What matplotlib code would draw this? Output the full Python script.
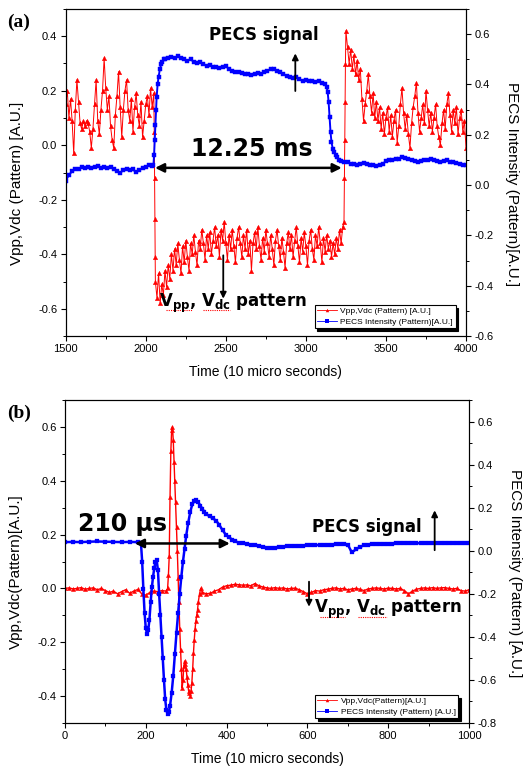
import numpy as np
import matplotlib
matplotlib.use('Agg')
import matplotlib.pyplot as plt
from matplotlib.ticker import MultipleLocator

plt.rcParams['font.family'] = ['Liberation Sans', 'DejaVu Sans']
plt.rcParams['axes.unicode_minus'] = False
plt.rcParams['mathtext.fontset'] = 'dejavusans'

# ---------------- panel (a) data ----------------
# Vpp,Vdc (left axis), sampled every 10 time units, in segments
vpp_a_pre = [0.15, 0.20, 0.10, 0.17, 0.09, -0.03, 0.13, 0.24, 0.16, 0.08,
             0.06, 0.09, 0.07, 0.09, 0.08, 0.05, -0.01, 0.06, 0.15, 0.24,
             0.09, 0.04, 0.13, 0.20, 0.32, 0.21, 0.13, 0.18, 0.07, 0.02,
             -0.01, 0.11, 0.18, 0.27, 0.14, 0.03, 0.13, 0.20, 0.24, 0.13,
             0.09, 0.17, 0.05, 0.14, 0.19, 0.11, 0.07, 0.16, 0.03, 0.09,
             0.15, 0.18, 0.11, 0.21, 0.14, 0.19]            # 1500..2050
vpp_a_drop_t = [2053, 2055, 2057, 2059]
vpp_a_drop = [0.05, -0.12, -0.27, -0.41]
vpp_a_on = [-0.50, -0.56, -0.47, -0.58, -0.51, -0.55, -0.46, -0.52, -0.44, -0.49,
            -0.40, -0.46, -0.38, -0.44, -0.36, -0.42, -0.47, -0.37, -0.43, -0.35,
            -0.41, -0.46, -0.36, -0.40, -0.33, -0.39, -0.44, -0.35, -0.38, -0.31,
            -0.36, -0.42, -0.33, -0.38, -0.32, -0.40, -0.35, -0.30, -0.37, -0.33,
            -0.41, -0.31, -0.35, -0.28, -0.36, -0.42, -0.33, -0.38, -0.31, -0.37,
            -0.43, -0.34, -0.30, -0.36, -0.41, -0.33, -0.38, -0.31, -0.40, -0.35,
            -0.46, -0.36, -0.32, -0.38, -0.30, -0.37, -0.42, -0.34, -0.39, -0.31,
            -0.36, -0.41, -0.33, -0.38, -0.44, -0.35, -0.31, -0.37, -0.42, -0.34,
            -0.39, -0.45, -0.36, -0.32, -0.38, -0.33, -0.41, -0.35, -0.30, -0.37,
            -0.43, -0.34, -0.39, -0.32, -0.37, -0.44, -0.35, -0.31, -0.38, -0.42,
            -0.33, -0.37, -0.30, -0.36, -0.43, -0.34, -0.39, -0.33, -0.38, -0.35,
            -0.41, -0.36, -0.40, -0.34, -0.38, -0.31, -0.36, -0.30]   # 2060..3230
vpp_a_jump_t = [3238, 3241, 3243, 3245, 3247]
vpp_a_jump = [-0.28, -0.12, 0.02, 0.16, 0.30]
vpp_a_post = [0.42, 0.36, 0.30, 0.35, 0.28, 0.33, 0.26, 0.31, 0.24, 0.28,
              0.17, 0.09, 0.15, 0.20, 0.26, 0.18, 0.12, 0.19, 0.10, 0.16,
              0.09, 0.14, 0.06, 0.12, 0.04, 0.10, 0.14, 0.05, 0.11, 0.03,
              0.09, 0.13, 0.01, 0.07, 0.15, 0.21, 0.12, 0.06, 0.11, 0.04,
              -0.01, 0.08, 0.14, 0.18, 0.23, 0.12, 0.05, 0.10, 0.15, 0.08,
              0.20, 0.13, 0.07, 0.12, 0.05, 0.10, 0.15, 0.07, 0.03, 0.00,
              0.08, 0.13, 0.06, 0.15, 0.19, 0.11, 0.05, 0.13, 0.08, 0.14,
              0.04, 0.10, 0.13, 0.05, 0.09, -0.01]          # 3250..4000

# PECS intensity (right axis)
pecs_a_pre = [0.016, 0.04, 0.055, 0.062, 0.065, 0.07, 0.068, 0.072, 0.066, 0.07,
              0.075, 0.068, 0.07, 0.066, 0.072, 0.063, 0.055, 0.048, 0.06, 0.065,
              0.058, 0.062, 0.05, 0.06, 0.068, 0.072, 0.08, 0.076]   # 1500..2040 step 20
pecs_a_rise_t = [2048, 2052, 2056, 2060, 2064, 2068, 2074, 2080, 2088, 2096, 2104, 2112]
pecs_a_rise = [0.08, 0.12, 0.18, 0.24, 0.30, 0.35, 0.40, 0.43, 0.46, 0.48, 0.49, 0.50]
pecs_a_on = [0.50, 0.505, 0.51, 0.505, 0.512, 0.505, 0.50, 0.495, 0.50, 0.49,
             0.485, 0.49, 0.48, 0.475, 0.478, 0.47, 0.468, 0.465, 0.47, 0.472,
             0.462, 0.455, 0.45, 0.448, 0.445, 0.44, 0.442, 0.438, 0.44, 0.445,
             0.44, 0.45, 0.455, 0.46, 0.462, 0.455, 0.45, 0.44, 0.435, 0.43,
             0.425, 0.428, 0.42, 0.415, 0.418, 0.412, 0.415, 0.41, 0.412, 0.405,
             0.40]                                           # 2120..3120 step 20
pecs_a_fall_t = [3130, 3136, 3142, 3148, 3154, 3160, 3168, 3176, 3186, 3196, 3208, 3220]
pecs_a_fall = [0.39, 0.37, 0.33, 0.27, 0.21, 0.17, 0.145, 0.13, 0.12, 0.11, 0.10, 0.095]
pecs_a_post = [0.092, 0.09, 0.085, 0.083, 0.08, 0.085, 0.088, 0.085, 0.08, 0.078,
               0.074, 0.078, 0.085, 0.095, 0.10, 0.098, 0.102, 0.105, 0.11, 0.108,
               0.105, 0.10, 0.095, 0.093, 0.095, 0.098, 0.10, 0.102, 0.098, 0.095,
               0.093, 0.096, 0.098, 0.092, 0.09, 0.088, 0.085, 0.08, 0.078]  # 3240..4000

# ---------------- panel (b) data ----------------
vpp_b_pre = [0.0, 0.002, -0.002, 0.0, 0.003, -0.003, 0.0, 0.002, -0.005, 0.0,
             -0.008, -0.015, -0.01, -0.02, -0.012, -0.005, -0.018, -0.01, -0.004, -0.02,
             -0.025, -0.015, -0.01, -0.012, -0.008, -0.01]   # 0..250 step 10
vpp_b_peak_t = [254, 256, 258, 260, 262, 264, 266, 268, 270, 272, 274, 276, 278, 280,
                282, 284, 286, 288, 290, 292, 294, 296, 298, 300, 302, 304, 306, 308,
                310, 312, 314, 316, 318, 320, 322, 324, 326, 328, 330, 333, 336, 340]
vpp_b_peak = [0.0, 0.05, 0.12, 0.34, 0.51, 0.59, 0.60, 0.55, 0.47, 0.40, 0.32, 0.23,
              0.14, 0.04, -0.05, -0.15, -0.23, -0.30, -0.37, -0.34, -0.29, -0.27,
              -0.28, -0.30, -0.33, -0.36, -0.38, -0.39, -0.40, -0.38, -0.35, -0.30,
              -0.24, -0.19, -0.15, -0.12, -0.10, -0.08, -0.05, -0.02, 0.0, -0.015]
vpp_b_post = [-0.02, -0.018, -0.01, -0.005, 0.005, 0.01, 0.012, 0.015, 0.014, 0.012,
              0.013, 0.01, 0.018, 0.01, 0.005, 0.002, 0.0, 0.003, 0.0, 0.002,
              -0.002, 0.0, 0.001, -0.005, -0.012, -0.02, -0.015, -0.008, -0.01, -0.005,
              -0.003, 0.0, 0.002, -0.002, 0.0, -0.005, -0.002, 0.0, -0.003, -0.008,
              -0.002, 0.0, 0.002, 0.0, -0.002, 0.001, 0.0, -0.002, 0.0, -0.008,
              -0.02, -0.01, -0.003, 0.0, 0.002, 0.0, 0.003, 0.0, 0.002, 0.003,
              0.0, -0.002, 0.0, -0.008, -0.01, -0.005]      # 350..1000 step 10

pecs_b_pre = [0.04, 0.041, 0.04, 0.042, 0.043, 0.042, 0.041, 0.04, 0.041, 0.04]  # 0..180 step 20
pecs_b_mid_t = [188, 191, 194, 197, 200, 203, 206, 209, 212, 215, 218, 221, 224, 227,
                230, 233, 236, 239, 242, 245, 248, 251, 254, 257, 260, 264, 268, 272,
                276, 280, 284, 288, 292, 296, 300, 305, 310, 315, 320, 325, 330, 335,
                340, 345, 350, 358, 366, 374, 382, 390, 398, 406, 414, 422, 430]
pecs_b_mid = [0.035, -0.05, -0.18, -0.29, -0.36, -0.385, -0.37, -0.32, -0.24, -0.17,
              -0.12, -0.08, -0.05, -0.045, -0.09, -0.20, -0.30, -0.40, -0.50, -0.60,
              -0.69, -0.74, -0.76, -0.75, -0.72, -0.66, -0.58, -0.48, -0.38, -0.29,
              -0.20, -0.12, -0.05, 0.01, 0.07, 0.13, 0.18, 0.215, 0.23, 0.235,
              0.225, 0.21, 0.195, 0.18, 0.17, 0.16, 0.15, 0.14, 0.12, 0.095,
              0.075, 0.062, 0.052, 0.043, 0.038]
pecs_b_post = [0.035, 0.032, 0.028, 0.025, 0.022, 0.018, 0.015, 0.013, 0.014, 0.016,
               0.018, 0.02, 0.021, 0.022, 0.023, 0.024, 0.025, 0.026, 0.026, 0.027,
               0.027, 0.028, 0.028, 0.029, 0.03, 0.03, 0.028, -0.008, 0.006, 0.018,
               0.025, 0.028, 0.03, 0.031, 0.032, 0.032, 0.033, 0.033, 0.034, 0.034,
               0.034, 0.034, 0.035, 0.035, 0.035, 0.035, 0.035, 0.035, 0.035, 0.035,
               0.035, 0.035, 0.035, 0.035, 0.035, 0.035, 0.035]  # 440..1000 step 10

label_vpp_a = 'Vpp,Vdc (Pattern) [A.U.]'
label_pecs_a = 'PECS Intensity (Pattern)[A.U.]'
label_vpp_b = 'Vpp,Vdc(Pattern)[A.U.]'
label_pecs_b = 'PECS Intensity (Pattern) [A.U.]'


def grid(start, step, vals):
    # time stamps of a regularly sampled segment
    return start + step * np.arange(len(vals))


def join(*parts):
    t = np.concatenate([np.asarray(p[0], float) for p in parts])
    v = np.concatenate([np.asarray(p[1], float) for p in parts])
    return t, v


t_vpp_a, v_vpp_a = join((grid(1500, 10, vpp_a_pre), vpp_a_pre),
                        (vpp_a_drop_t, vpp_a_drop),
                        (grid(2060, 10, vpp_a_on), vpp_a_on),
                        (vpp_a_jump_t, vpp_a_jump),
                        (grid(3250, 10, vpp_a_post), vpp_a_post))
t_pecs_a, v_pecs_a = join((grid(1500, 20, pecs_a_pre), pecs_a_pre),
                          (pecs_a_rise_t, pecs_a_rise),
                          (grid(2120, 20, pecs_a_on), pecs_a_on),
                          (pecs_a_fall_t, pecs_a_fall),
                          (grid(3240, 20, pecs_a_post), pecs_a_post))
t_vpp_b, v_vpp_b = join((grid(0, 10, vpp_b_pre), vpp_b_pre),
                        (vpp_b_peak_t, vpp_b_peak),
                        (grid(350, 10, vpp_b_post), vpp_b_post))
t_pecs_b, v_pecs_b = join((grid(0, 20, pecs_b_pre), pecs_b_pre),
                          (pecs_b_mid_t, pecs_b_mid),
                          (grid(440, 10, pecs_b_post), pecs_b_post))

RED = '#ff0000'
BLUE = '#0000ff'
W, H = 524, 773

fig = plt.figure(figsize=(W / 100, H / 100), dpi=100)


def px_axes(l, t, r, b):
    return fig.add_axes([l / W, 1 - b / H, (r - l) / W, (b - t) / H])


def style(ax):
    for s in ax.spines.values():
        s.set_linewidth(0.8)
    ax.tick_params(which='major', direction='out', length=3.6, width=0.8,
                   labelsize=8, pad=2.5)
    ax.tick_params(which='minor', direction='out', length=2.2, width=0.7)


vsub = r'$\mathbf{V_{pp}}$, $\mathbf{V_{dc}}$ pattern'


def panel(ax, t_l, v_l, t_r, v_r, xlim, xmaj, xmin, ylim_l, ylim_r, red_st, blue_st,
          labels, ylabel_l, ylabel_r, legend_anchor):
    ax2 = ax.twinx()
    l1, = ax.plot(t_l, v_l, color=RED, marker='^', mec=RED, label=labels[0], **red_st)
    l2, = ax2.plot(t_r, v_r, color=BLUE, marker='s', mec=BLUE, label=labels[1], **blue_st)
    ax.set_xlim(*xlim)
    ax.set_ylim(*ylim_l)
    ax2.set_ylim(*ylim_r)
    ax.xaxis.set_major_locator(MultipleLocator(xmaj))
    ax.xaxis.set_minor_locator(MultipleLocator(xmin))
    for a in (ax, ax2):
        a.yaxis.set_major_locator(MultipleLocator(0.2))
        a.yaxis.set_minor_locator(MultipleLocator(0.1))
        a.yaxis.set_major_formatter(lambda v, p: f'{v:.1f}')
        style(a)
    ax.text(0.5, -0.11, 'Time (10 micro seconds)', transform=ax.transAxes,
            ha='center', va='center', fontsize=10)
    ax.text(-0.122, 0.468, ylabel_l, transform=ax.transAxes, rotation=90,
            ha='center', va='center', fontsize=11)
    ax.text(1.114, 0.465, ylabel_r, transform=ax.transAxes, rotation=270,
            ha='center', va='center', fontsize=11)
    h1, = ax2.plot([], [], color=RED, lw=0.6, marker='^', ms=2.5, mew=0)
    h2, = ax2.plot([], [], color=BLUE, lw=0.6, marker='s', ms=2.2, mew=0)
    leg = ax2.legend([h1, h2], labels, loc='lower right',
                     bbox_to_anchor=legend_anchor, fontsize=6, frameon=True,
                     fancybox=False, framealpha=1, edgecolor='k', numpoints=1,
                     handlelength=2.4, handletextpad=0.4, borderpad=0.3,
                     labelspacing=0.3, borderaxespad=0,
                     shadow={'color': 'k', 'alpha': 1})
    leg.get_frame().set_linewidth(0.8)
    return ax2


def arrow(ax, data_ax, xy, xytext, two=False):
    ax.annotate('', xy=xy, xytext=xytext, xycoords=data_ax.transData,
                textcoords=data_ax.transData,
                arrowprops=dict(arrowstyle='<|-|>' if two else '-|>', color='k',
                                lw=1.8 if two else 1.3,
                                mutation_scale=13 if two else 9,
                                shrinkA=0, shrinkB=0))


# ---------------- panel (a) ----------------
axa = px_axes(65.7, 9, 466, 336)
axa2 = panel(axa, t_vpp_a, v_vpp_a, t_pecs_a, v_pecs_a, (1500, 4000), 500, 250,
             (-0.7, 0.5), (-0.6, 0.7),
             dict(lw=0.7, ms=3.2, mew=0.3), dict(lw=1.4, ms=3.4, mew=0.3),
             [label_vpp_a, label_pecs_a],
             'Vpp,Vdc (Pattern) [A.U.]', 'PECS Intensity (Pattern)[A.U.]',
             (0.974, 0.024))
axa2.text(2738, 0.404, 'PECS signal', transform=axa.transData, ha='center',
          va='center', fontsize=12, fontweight='bold', family='DejaVu Sans')
arrow(axa2, axa, (2934, 0.337), (2934, 0.199))
axa2.text(2665, -0.015, '12.25 ms', transform=axa.transData, ha='center',
          va='center', fontsize=17, fontweight='bold', family='DejaVu Sans')
arrow(axa2, axa, (3224, -0.083), (2058, -0.083), two=True)
axa2.text(2543, -0.593, vsub, transform=axa.transData, ha='center',
          va='baseline', fontsize=12, fontweight='bold', family='DejaVu Sans')
arrow(axa2, axa, (2484, -0.563), (2484, -0.404))
for x0, x1 in [(2124, 2287), (2358, 2526)]:
    axa2.plot([x0, x1], [-0.605, -0.605], transform=axa.transData, color=RED,
              lw=0.8, ls=(0, (1, 1)))
fig.text(7 / W, 1 - 14 / H, '(a)', ha='left', va='top', fontsize=14,
         fontweight='bold', family='Liberation Serif')

# ---------------- panel (b) ----------------
axb = px_axes(65, 400, 469, 723)
axb2 = panel(axb, t_vpp_b, v_vpp_b, t_pecs_b, v_pecs_b, (0, 1000), 200, 100,
             (-0.5, 0.7), (-0.8, 0.7),
             dict(lw=1.0, ms=3.0, mew=0.3), dict(lw=1.8, ms=2.4, mew=0.2),
             [label_vpp_b, label_pecs_b],
             'Vpp,Vdc(Pattern)[A.U.]', 'PECS Intensity (Pattern) [A.U.]',
             (0.973, 0.015))
axb2.text(142, 0.241, '210 \u03bcs', transform=axb.transData, ha='center',
          va='center', fontsize=17, fontweight='bold', family='DejaVu Sans')
arrow(axb2, axb, (408, 0.167), (173, 0.167), two=True)
axb2.text(748, 0.229, 'PECS signal', transform=axb.transData, ha='center',
          va='center', fontsize=12, fontweight='bold', family='DejaVu Sans')
arrow(axb2, axb, (915, 0.29), (915, 0.142))
axb2.text(800, -0.093, vsub, transform=axb.transData, ha='center',
          va='baseline', fontsize=12, fontweight='bold', family='DejaVu Sans')
arrow(axb2, axb, (604, -0.068), (604, 0.025))
for x0, x1 in [(631, 692), (725, 796)]:
    axb2.plot([x0, x1], [-0.106, -0.106], transform=axb.transData, color=RED,
              lw=0.8, ls=(0, (1, 1)))
fig.text(7 / W, 1 - 405 / H, '(b)', ha='left', va='top', fontsize=14,
         fontweight='bold', family='Liberation Serif')

fig.savefig('out.png', dpi=100)
